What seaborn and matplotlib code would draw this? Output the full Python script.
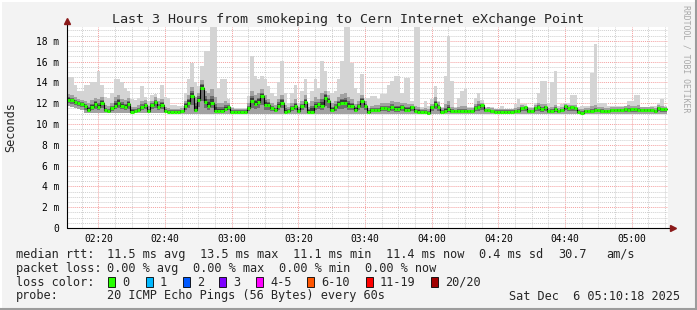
import numpy as np
import pandas as pd
import matplotlib
matplotlib.use("Agg")
import matplotlib.pyplot as plt
import seaborn as sns
from matplotlib.lines import Line2D
from matplotlib.patches import Rectangle
from matplotlib.ticker import MultipleLocator

# ---------------- data (ms, one sample per minute, 02:10.6 -> 05:10.6) ----------------
START_MIN = 10.6  # minutes after 02:00 of first sample

median_ms = [
    12.3, 12.3, 12.1, 12.0, 11.9, 11.7, 11.35, 11.6, 11.9, 11.6,
    12.0, 11.3, 11.25, 11.5, 11.75, 12.05, 11.75, 11.6, 11.9, 11.2,
    11.25, 11.3, 11.6, 11.8, 11.25, 11.8, 12.1, 11.6, 11.85, 11.25,
    11.2, 11.2, 11.2, 11.2, 11.25, 11.75, 12.05, 12.7, 11.35, 12.3,
    13.5, 12.1, 11.75, 12.0, 11.25, 11.25, 11.25, 11.45, 11.6, 11.2,
    11.2, 11.2, 11.2, 11.2, 11.5, 12.2, 11.9, 12.1, 12.65, 11.8,
    11.8, 11.5, 11.35, 11.75, 12.05, 11.2, 11.25, 11.5, 11.7, 11.25,
    11.7, 12.1, 11.2, 11.2, 11.7, 11.9, 11.75, 12.55, 12.2, 11.35,
    11.6, 11.9, 12.0, 12.05, 11.75, 11.7, 11.35, 11.7, 12.2, 11.7,
    11.2, 11.3, 11.35, 11.35, 11.5, 11.5, 11.4, 11.6, 11.4, 11.4,
    11.6, 11.35, 11.35, 11.6, 11.25, 11.2, 11.2, 11.2, 11.05, 11.6,
    11.9, 11.6, 11.2, 11.25, 11.4, 11.25, 11.25, 11.25, 11.25, 11.25,
    11.25, 11.25, 11.5, 11.6, 11.8, 11.35, 11.3, 11.25, 11.2, 11.2,
    11.2, 11.2, 11.2, 11.2, 11.25, 11.25, 11.5, 11.6, 11.25, 11.25,
    11.5, 11.6, 11.4, 11.6, 11.25, 11.25, 11.4, 11.25, 11.35, 11.7,
    11.5, 11.6, 11.5, 11.2, 11.1, 11.25, 11.25, 11.25, 11.3, 11.3,
    11.25, 11.25, 11.25, 11.3, 11.3, 11.35, 11.35, 11.4, 11.35, 11.4,
    11.4, 11.35, 11.35, 11.35, 11.35, 11.35, 11.25, 11.5, 11.4, 11.4,
]

max_ms = [
    14.55, 14.5, 13.8, 13.2, 13.2, 13.8, 13.8, 14.0, 14.0, 15.1,
    13.8, 12.6, 12.5, 13.0, 14.3, 14.3, 14.0, 13.5, 13.2, 12.4,
    12.3, 12.5, 13.7, 12.6, 12.2, 12.8, 12.9, 12.5, 13.8, 12.6,
    12.5, 11.8, 11.8, 11.75, 11.75, 13.0, 14.3, 15.9, 14.0, 13.65,
    15.6, 17.0, 17.0, 19.4, 19.4, 13.5, 14.3, 14.3, 12.4, 11.6,
    11.5, 11.5, 11.5, 11.5, 12.7, 16.55, 14.6, 14.3, 14.6, 14.3,
    13.65, 13.0, 12.7, 14.0, 16.1, 13.0, 12.05, 13.0, 13.8, 12.05,
    13.2, 14.3, 12.05, 13.2, 14.3, 13.5, 16.1, 15.1, 13.2, 13.0,
    13.2, 14.3, 16.1, 19.4, 19.4, 15.9, 13.5, 13.0, 14.8, 12.55,
    12.55, 12.7, 12.7, 12.45, 12.85, 12.85, 13.8, 14.15, 14.6, 14.6,
    13.0, 14.45, 14.45, 12.2, 19.4, 19.4, 11.6, 12.2, 11.75, 12.4,
    13.65, 12.2, 11.6, 14.6, 18.5, 14.15, 11.6, 12.55, 13.2, 13.35,
    11.6, 11.6, 12.55, 13.0, 12.3, 11.6, 11.6, 11.6, 11.4, 11.4,
    11.75, 11.4, 11.4, 11.4, 11.9, 12.4, 11.9, 11.9, 11.6, 11.6,
    12.05, 13.0, 14.15, 14.15, 12.05, 14.0, 15.1, 11.75, 11.9, 12.05,
    12.05, 12.8, 12.8, 11.6, 11.75, 11.75, 11.75, 14.9, 17.7, 12.05,
    12.0, 12.0, 11.75, 11.75, 11.75, 11.75, 11.75, 11.75, 12.2, 12.2,
    12.8, 12.8, 11.6, 11.6, 11.6, 11.75, 11.75, 12.0, 12.45, 11.75,
]

upper_ms = [
    12.9, 12.8, 12.6, 12.4, 12.3, 12.2, 12.0, 12.3, 12.5, 12.4,
    12.6, 11.8, 11.7, 12.0, 12.6, 12.8, 12.4, 12.3, 12.5, 11.6,
    11.6, 11.8, 12.2, 12.3, 11.7, 12.2, 12.6, 12.2, 12.4, 11.6,
    11.5, 11.4, 11.4, 11.4, 11.5, 12.2, 12.8, 13.6, 12.6, 13.0,
    14.2, 13.2, 13.0, 13.4, 12.6, 12.0, 12.0, 12.2, 12.0, 11.5,
    11.4, 11.4, 11.4, 11.4, 12.0, 13.2, 12.8, 13.0, 13.4, 12.8,
    12.4, 12.0, 11.8, 12.4, 12.8, 11.8, 11.6, 12.0, 12.4, 11.6,
    12.2, 12.8, 11.6, 12.2, 12.6, 12.4, 13.0, 13.2, 12.8, 12.0,
    12.2, 12.6, 12.9, 13.0, 12.6, 12.4, 11.9, 12.2, 12.8, 12.2,
    11.5, 11.7, 11.8, 11.8, 12.0, 12.0, 12.0, 12.2, 12.1, 12.1,
    12.0, 12.0, 11.9, 11.9, 11.7, 11.6, 11.4, 11.5, 11.4, 11.9,
    12.6, 12.1, 11.5, 11.9, 12.2, 11.6, 11.5, 11.6, 11.7, 11.7,
    11.5, 11.5, 11.9, 12.2, 12.0, 11.55, 11.6, 11.5, 11.4, 11.4,
    11.4, 11.4, 11.4, 11.4, 11.5, 11.6, 11.8, 11.7, 11.5, 11.5,
    11.8, 12.0, 11.9, 11.9, 11.5, 11.6, 11.8, 11.5, 11.6, 11.9,
    11.8, 11.8, 11.8, 11.4, 11.4, 11.5, 11.5, 11.7, 11.8, 11.6,
    11.6, 11.5, 11.5, 11.6, 11.6, 11.6, 11.6, 11.7, 11.8, 11.7,
    11.7, 11.8, 11.6, 11.6, 11.6, 11.6, 11.5, 11.8, 11.7, 11.6,
]

min_ms = ([11.7, 11.6, 11.5, 11.4, 11.3] + [11.05] * 29 + [11.0] * 15
          + [10.95] * 59 + [10.85] + [10.95] * 71)

xtick_minutes = [20, 40, 60, 80, 100, 120, 140, 160, 180]
xtick_labels = ["02:20", "02:40", "03:00", "03:20", "03:40",
                "04:00", "04:20", "04:40", "05:00"]
ytick_values = [0, 2, 4, 6, 8, 10, 12, 14, 16, 18]
ytick_labels = ["0", "2 m", "4 m", "6 m", "8 m", "10 m", "12 m", "14 m", "16 m", "18 m"]

loss_labels = ["0", "1", "2", "3", "4-5", "6-10", "11-19", "20/20"]
loss_colors = ["#26ff00", "#00b8ff", "#0059ff", "#7e00ff", "#ff00ff",
               "#ff5500", "#ff0000", "#a10000"]

title = "Last 3 Hours from smokeping to Cern Internet eXchange Point"

# ---------------- figure ----------------
W, H = 697, 310
sns.set_style("white")
plt.rcParams["font.family"] = ["DejaVu Sans Mono", "DejaVu Sans"]

BG = "#f3f3f3"
fig = plt.figure(figsize=(W / 100, H / 100), dpi=100, facecolor=BG)
L, R, T, B = 67, 668, 27, 228
ax = fig.add_axes([L / W, 1 - B / H, (R - L) / W, (B - T) / H])
ax.set_facecolor("white")

n = len(median_ms)
df = pd.DataFrame({
    "t": START_MIN + np.arange(n),
    "median": median_ms, "max": max_ms, "upper": upper_ms, "min": min_ms,
})
edges = np.append(df["t"].values, df["t"].values[-1] + 1)

def ext(a):
    a = np.asarray(a, dtype=float)
    return np.append(a, a[-1])

med = df["median"].values
lo = np.minimum(df["min"].values, med)
hi = np.maximum(df["max"].values, med)
up = np.clip(df["upper"].values, med, hi)
core_hi = (med + up) / 2

# smoke (light outer -> dark core)
ax.fill_between(edges, ext(lo), ext(hi), step="post", color="#d4d4d4", lw=0, zorder=2)
ax.fill_between(edges, ext(lo), ext(up), step="post", color="#a2a2a2", lw=0, zorder=3)
ax.fill_between(edges, ext((lo + med) / 2), ext(core_hi), step="post", color="#6e6e6e", lw=0, zorder=4)
ax.fill_between(edges, ext(med - 0.08), ext(med + 0.3 * (up - med)), step="post",
                color="#3c3c3c", lw=0, zorder=4)

# median line
sns.lineplot(x=edges, y=ext(med), drawstyle="steps-post", color="black",
             lw=0.8, estimator=None, ax=ax, zorder=5)
ax.hlines(med, edges[:-1], edges[1:], colors=loss_colors[0], lw=2.2, zorder=6)

# axes setup
ax.set_xlim(START_MIN, 190.9)
ax.set_ylim(0, 19.33)
ax.set_xticks(xtick_minutes)
ax.set_xticklabels(xtick_labels)
ax.xaxis.set_minor_locator(MultipleLocator(5))
ax.set_yticks(ytick_values)
ax.set_yticklabels(ytick_labels)
ax.yaxis.set_minor_locator(MultipleLocator(0.5))
ax.set_xlabel("")
ax.set_ylabel("")

ax.grid(which="minor", color="#cfcfcf", ls=(0, (1, 1)), lw=0.7, zorder=1)
ax.grid(which="major", color="#f4a0a0", ls=(0, (1, 1)), lw=0.7, zorder=1)
ax.set_axisbelow(True)
for s in ax.spines.values():
    s.set_visible(False)

ax.tick_params(axis="both", which="major", labelsize=6.9, colors="black",
               length=3, width=0.7, direction="inout", pad=3)
ax.tick_params(axis="both", which="minor", length=2, width=0.6, direction="in",
               color="#888888")
ax.tick_params(axis="y", which="major", pad=4)

# axis lines with arrows
ax.plot([0, 0], [0, 1.025], transform=ax.transAxes, color="black", lw=0.8,
        clip_on=False, zorder=7)
ax.plot([0, 1.006], [0, 0], transform=ax.transAxes, color="black", lw=0.8,
        clip_on=False, zorder=7)
ax.plot([0], [1.03], marker="^", ms=4, color="#8b1a1a", transform=ax.transAxes,
        clip_on=False, zorder=8)
ax.plot([1.008], [0], marker=">", ms=4, color="#8b1a1a", transform=ax.transAxes,
        clip_on=False, zorder=8)

# ---------------- texts ----------------
def ftext(x, y, s, **kw):
    kw.setdefault("fontsize", 8.6)
    kw.setdefault("va", "center")
    kw.setdefault("ha", "left")
    fig.text(x / W, 1 - y / H, s, **kw)

ftext(347.5, 19, title, fontsize=9.6, ha="center")
ftext(10.5, 127, "Seconds", rotation=90, ha="center")
ftext(686, 5, "RRDTOOL / TOBI OETIKER", rotation=270, va="top", ha="center",
      fontsize=5.9, color="#a8a8a8")

row1 = 254.3
ftext(16, row1, "median rtt:")
for x, s in [(107.3, "11.5 ms avg"), (200, "13.5 ms max"), (293.3, "11.1 ms min"),
             (386, "11.4 ms now"), (479.3, "0.4 ms sd"), (558.3, "30.7"), (606.7, "am/s")]:
    ftext(x, row1, s)

row2 = 268.3
ftext(16, row2, "packet loss:")
for x, s in [(107.3, "0.00 % avg"), (193.3, "0.00 % max"), (279.3, "0.00 % min"),
             (365, "0.00 % now")]:
    ftext(x, row2, s)

row3 = 282.3
ftext(16, row3, "loss color:")
for x, lab, col in zip([108, 146, 183, 219.3, 256, 307, 366, 431], loss_labels, loss_colors):
    fig.add_artist(Rectangle((x / W, 1 - (row3 + 5) / H), 7 / W, 10 / H,
                             transform=fig.transFigure, facecolor=col,
                             edgecolor="black", lw=0.6))
    ftext(x + 14, row3, lab)

row4 = 296
ftext(16, row4, "probe:")
ftext(107.3, row4, "20 ICMP Echo Pings (56 Bytes) every 60s")
ftext(680, row4, "Sat Dec  6 05:10:18 2025", ha="right")

# image frame
fig.add_artist(Line2D([0, 1], [1 - 0.5 / H, 1 - 0.5 / H], transform=fig.transFigure,
                      color="white", lw=1.5))
fig.add_artist(Line2D([0.5 / W, 0.5 / W], [0, 1], transform=fig.transFigure,
                      color="white", lw=1.5))
fig.add_artist(Line2D([1 - 1 / W, 1 - 1 / W], [0, 1], transform=fig.transFigure,
                      color="#9c9c9c", lw=1.5))
fig.add_artist(Line2D([0, 1], [1 / H, 1 / H], transform=fig.transFigure,
                      color="#9c9c9c", lw=1.5))

fig.savefig("out.png", dpi=100, facecolor=BG)
